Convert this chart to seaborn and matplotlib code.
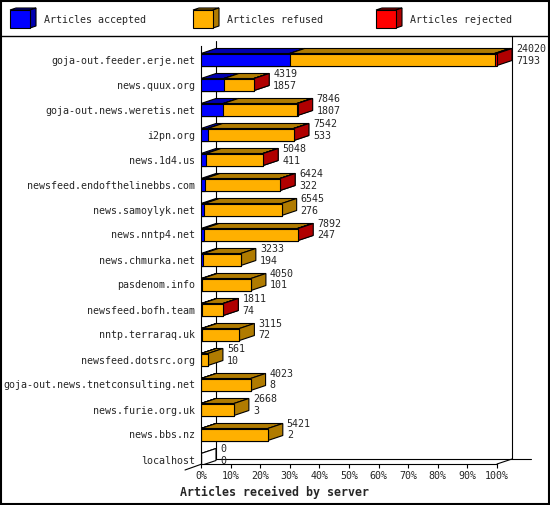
import numpy as np
import pandas as pd
import matplotlib
matplotlib.use('Agg')
import matplotlib.pyplot as plt
from matplotlib.patches import Polygon, Rectangle
import seaborn as sns

# Data
servers = ['goja-out.feeder.erje.net', 'news.quux.org', 'goja-out.news.weretis.net',
           'i2pn.org', 'news.1d4.us', 'newsfeed.endofthelinebbs.com', 'news.samoylyk.net',
           'news.nntp4.net', 'news.chmurka.net', 'pasdenom.info', 'newsfeed.bofh.team',
           'nntp.terraraq.uk', 'newsfeed.dotsrc.org', 'goja-out.news.tnetconsulting.net',
           'news.furie.org.uk', 'news.bbs.nz', 'localhost']
totals = [24020, 4319, 7846, 7542, 5048, 6424, 6545, 7892, 3233, 4050, 1811, 3115, 561, 4023, 2668, 5421, 0]
accepted = [7193, 1857, 1807, 533, 411, 322, 276, 247, 194, 101, 74, 72, 10, 8, 3, 2, 0]
# rejected counts are not labelled, estimated from the bar
rejected = [190, 20, 60, 25, 15, 10, 0, 60, 0, 0, 5, 0, 0, 0, 0, 0, 0]
series = ['Articles accepted', 'Articles refused', 'Articles rejected']
ticks = list(range(0, 101, 10))

refused = [t - a - r for t, a, r in zip(totals, accepted, rejected)]

front = {'Articles accepted': '#0000FF', 'Articles refused': '#FFB000', 'Articles rejected': '#FF0000'}
shade = {'Articles accepted': '#0000B0', 'Articles refused': '#B07B00', 'Articles rejected': '#B00000'}

scale = 100.0 / max(totals)
df = pd.DataFrame({
    'server': servers,
    'acc': np.array(accepted) * scale,
    'ref': np.array(refused) * scale,
    'rej': np.array(rejected) * scale,
})
df['upto_ref'] = df['acc'] + df['ref']
df['total'] = df['upto_ref'] + df['rej']

sns.set_theme(style='white')
plt.rcParams['font.family'] = ['DejaVu Sans Mono']
mono = 7.2

fig = plt.figure(figsize=(5.5, 5.05), dpi=100, facecolor='white')
bg = fig.add_axes([0, 0, 1, 1])
bg.set_xlim(0, 550)
bg.set_ylim(505, 0)
bg.axis('off')

ax = fig.add_axes([201 / 550, 41 / 505, 348 / 550, 428 / 505])
ax.set_facecolor('none')

bar_h = 0.48
dx = 15 / 2.96   # depth in percent units
dy = 0.2         # depth in row units

# fronts of the stacked bars
for col, name in [('total', 'Articles rejected'), ('upto_ref', 'Articles refused'), ('acc', 'Articles accepted')]:
    sns.barplot(data=df, x=col, y='server', orient='h', color=front[name], saturation=1,
                width=bar_h, edgecolor='black', linewidth=0.8, ax=ax, zorder=3)

# top and side faces
for i, row in df.iterrows():
    y0 = i - bar_h / 2
    y1 = i + bar_h / 2
    segs = [(row['acc'], 'Articles accepted'), (row['ref'], 'Articles refused'), (row['rej'], 'Articles rejected')]
    if row['total'] == 0:
        segs = [(0.0, None)]
    x0 = 0.0
    for w, name in segs:
        if w <= 0 and name is not None:
            continue
        x1 = x0 + w
        fc = shade[name] if name else 'white'
        ax.add_patch(Polygon([(x0, y0), (x1, y0), (x1 + dx, y0 - dy), (x0 + dx, y0 - dy)],
                             closed=True, facecolor=fc, edgecolor='black', lw=0.8, zorder=2))
        ax.add_patch(Polygon([(x1, y0), (x1 + dx, y0 - dy), (x1 + dx, y1 - dy), (x1, y1)],
                             closed=True, facecolor=fc, edgecolor='black', lw=0.8, zorder=2))
        x0 = x1
    ax.text(row['total'] + dx + 1.35, i - 0.42, str(totals[i]), fontsize=mono,
            ha='left', va='center', zorder=5, clip_on=False)
    ax.text(row['total'] + dx + 1.35, i + 0.04, str(accepted[i]), fontsize=mono,
            ha='left', va='center', zorder=5, clip_on=False)

y_floor = (464 - 59.5) / 25
y_top = (36 - 59.5) / 25
ax.set_xlim(0, 348 / 2.96)
ax.set_ylim(y_floor, y_top)

# back wall and floor
lk = dict(color='black', lw=0.8, zorder=1, clip_on=False)
ax.plot([dx, dx], [y_top + 0.2, y_floor - dy], **lk)
ax.plot([100 + dx, 100 + dx], [y_top, y_floor - dy], **lk)
ax.plot([dx, 111.5], [y_floor - dy, y_floor - dy], **lk)
ax.plot([-5.4, dx], [y_floor + 0.24, y_floor - dy], **lk)
ax.plot([100, 100 + dx], [y_floor, y_floor - dy], **lk)

for s in ['top', 'right']:
    ax.spines[s].set_visible(False)
ax.spines['left'].set_bounds(y_floor, (46 - 59.5) / 25)
ax.spines['bottom'].set_bounds(0, 100)
for s in ['left', 'bottom']:
    ax.spines[s].set_color('black')
    ax.spines[s].set_linewidth(0.8)

ax.set_xticks(ticks)
ax.set_xticklabels([f'{t}%' for t in ticks])
ax.tick_params(axis='x', direction='out', length=3, width=0.8, color='black', pad=2,
               labelsize=mono, bottom=True)
ax.tick_params(axis='y', length=0, pad=4, labelsize=mono)
ax.set_ylabel('')
ax.set_xlabel('Articles received by server', fontsize=8.4, fontweight='bold')
ax.xaxis.set_label_coords((275 - 201) / 348, -(492 - 464) / 428)
ax.xaxis.label.set_va('center')

# frame and header legend
bg.add_patch(Rectangle((0.75, 0.75), 548.5, 503.5, fill=False, edgecolor='black', lw=1.5))
bg.plot([0, 550], [36, 36], color='black', lw=1)
for k, name in enumerate(series):
    lx = 10 + 183 * k
    bg.add_patch(Polygon([(lx, 10), (lx + 20, 10), (lx + 26, 8), (lx + 6, 8)], closed=True,
                         facecolor=shade[name], edgecolor='black', lw=0.8))
    bg.add_patch(Polygon([(lx + 20, 10), (lx + 26, 8), (lx + 26, 26), (lx + 20, 28)], closed=True,
                         facecolor=shade[name], edgecolor='black', lw=0.8))
    bg.add_patch(Rectangle((lx, 10), 20, 18, facecolor=front[name], edgecolor='black', lw=0.8))
    bg.text(lx + 34, 20, name, fontsize=mono, ha='left', va='center')

fig.savefig('out.png', dpi=100)
